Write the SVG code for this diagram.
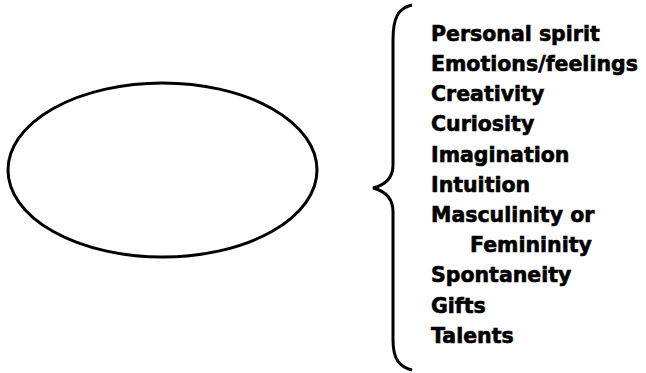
<svg xmlns="http://www.w3.org/2000/svg" width="646" height="373" viewBox="0 0 646 373">
<style>
.t{font-family:"DejaVu Sans","Liberation Sans",sans-serif;font-weight:bold;font-size:20.5px;fill:#000;stroke:#000;stroke-width:0.6}
.s{fill:none;stroke:#000;stroke-width:3}
</style>
<rect width="646" height="373" fill="#fff"/>
<g id="ellipse"><ellipse class="s" cx="162.5" cy="170" rx="154.5" ry="87"/></g>
<g id="connectors">
<path class="s" d="M412,5 C398,8 393,18 393,40 L393,165 C393,178 385,185 373,188 C385,191 393,198 393,212 L393,340 C393,360 400,367 412,370"/>
</g>
<g id="list">
<text class="t" x="431" y="41">Personal spirit</text>
<text class="t" x="431" y="71">Emotions/feelings</text>
<text class="t" x="431" y="101">Creativity</text>
<text class="t" x="431" y="131">Curiosity</text>
<text class="t" x="431" y="162">Imagination</text>
<text class="t" x="431" y="192">Intuition</text>
<text class="t" x="431" y="222">Masculinity or</text>
<text class="t" x="470" y="252">Femininity</text>
<text class="t" x="431" y="282">Spontaneity</text>
<text class="t" x="431" y="313">Gifts</text>
<text class="t" x="431" y="343">Talents</text>
</g>
</svg>
